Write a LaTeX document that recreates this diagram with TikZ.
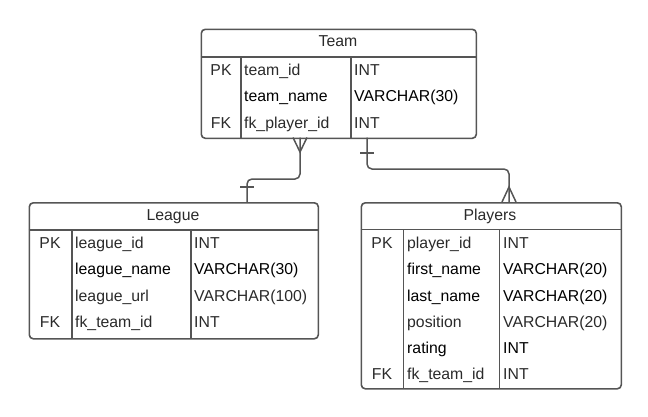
\documentclass[tikz,border=0pt]{standalone}
\usepackage{fontspec}
\setmainfont{Liberation Sans}
\definecolor{lc}{HTML}{555555}
\definecolor{tc}{HTML}{2A2A2A}
\definecolor{tk}{HTML}{000000}
\begin{document}
\begin{tikzpicture}[x=1pt,y=-1pt,
  tbl/.style={draw=lc, line width=1.6pt, rounded corners=4pt, inner sep=0pt, anchor=north west},
  sep/.style={draw=lc, line width=1.6pt},
  conn/.style={draw=lc, line width=1.5pt, rounded corners=5pt},
  crow/.style={draw=lc, line width=1.5pt},
  hdr/.style={font=\fontsize{15.8}{18}\selectfont, text=tc, inner sep=0pt, anchor=base},
  key/.style={font=\fontsize{15.8}{18}\selectfont, text=tc, inner sep=0pt, anchor=base},
  fld/.style={font=\fontsize{15.8}{18}\selectfont, text=tc, inner sep=0pt, anchor=base west},
  fldb/.style={font=\fontsize{15.8}{18}\selectfont, text=tk, inner sep=0pt, anchor=base west}]
\useasboundingbox (0,0) rectangle (648,416);

% ---------- Team ----------
\node[tbl, minimum width=275pt, minimum height=109pt] (team) at (200.5,28.5) {};
\draw[sep] (200.5,57) -- (475.5,57);
\draw[sep] (241,57) -- (241,137.5);
\draw[sep] (351,57) -- (351,137.5);
\node[hdr] (teamh) at (338,46.5) {Team};
\node[key] (tk1) at (221,75) {PK};
\node[key] (tk3) at (221,128) {FK};
\node[fld] (tn1) at (244,75) {team\_id};
\node[fldb] (tn2) at (244,101.5) {team\_name};
\node[fld] (tn3) at (244,128) {fk\_player\_id};
\node[fld] (tt1) at (354,75) {INT};
\node[fldb] (tt2) at (354,101.5) {VARCHAR(30)};
\node[fld] (tt3) at (354,128) {INT};

% ---------- League ----------
\node[tbl, minimum width=289pt, minimum height=136pt] (league) at (28.5,202) {};
\draw[sep] (28.5,230) -- (317.5,230);
\draw[sep] (72,230) -- (72,338);
\draw[sep] (191,230) -- (191,338);
\node[hdr] (leagueh) at (173,220) {League};
\node[key] (lk1) at (50,248) {PK};
\node[key] (lk4) at (50,327) {FK};
\node[fld] (ln1) at (75,248) {league\_id};
\node[fldb] (ln2) at (75,274.5) {league\_name};
\node[fld] (ln3) at (75,301) {league\_url};
\node[fld] (ln4) at (75,327) {fk\_team\_id};
\node[fld] (lt1) at (194,248) {INT};
\node[fldb] (lt2) at (194,274.5) {VARCHAR(30)};
\node[fld] (lt3) at (194,301) {VARCHAR(100)};
\node[fld] (lt4) at (194,327) {INT};

% ---------- Players ----------
\node[tbl, minimum width=260pt, minimum height=186pt] (players) at (360.5,202) {};
\draw[sep] (360.5,229.5) -- (620.5,229.5);
\draw[sep] (403.5,229.5) -- (403.5,388);
\draw[sep] (499.5,229.5) -- (499.5,388);
\node[hdr] (playersh) at (490,220) {Players};
\node[key] (pk1) at (382,248) {PK};
\node[key] (pk6) at (382,379) {FK};
\node[fld] (pn1) at (407,248) {player\_id};
\node[fldb] (pn2) at (407,274.5) {first\_name};
\node[fldb] (pn3) at (407,301.5) {last\_name};
\node[fld] (pn4) at (407,327.5) {position};
\node[fldb] (pn5) at (407,353.5) {rating};
\node[fld] (pn6) at (407,379) {fk\_team\_id};
\node[fld] (pt1) at (503,248) {INT};
\node[fldb] (pt2) at (503,274.5) {VARCHAR(20)};
\node[fldb] (pt3) at (503,301.5) {VARCHAR(20)};
\node[fld] (pt4) at (503,327.5) {VARCHAR(20)};
\node[fldb] (pt5) at (503,353.5) {INT};
\node[fld] (pt6) at (503,379) {INT};

% ---------- Connectors ----------
\coordinate (a1) at (300,137.5);
\coordinate (a2) at (247,202);
\draw[conn] (a1) -- (300,179) -- (247,179) -- (a2);
\draw[crow] (293,137.5) -- (300,152) -- (307,137.5);
\draw[crow] (240,187) -- (254,187);

\coordinate (b1) at (367,137.5);
\coordinate (b2) at (509,202);
\draw[conn] (b1) -- (367,169) -- (509,169) -- (b2);
\draw[crow] (360,153) -- (374,153);
\draw[crow] (502,202) -- (509,187) -- (516,202);
\end{tikzpicture}
\end{document}
